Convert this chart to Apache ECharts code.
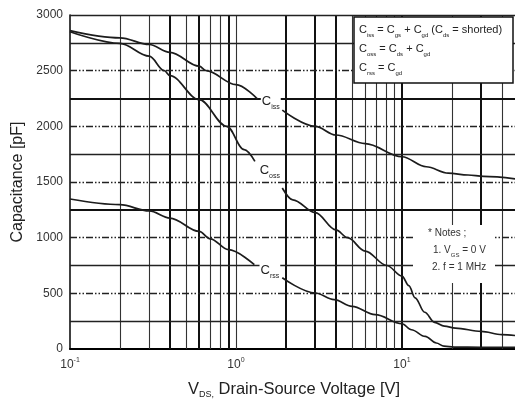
<!DOCTYPE html>
<html>
<head>
<meta charset="utf-8">
<script src="https://cdn.jsdelivr.net/npm/echarts@6/dist/echarts.min.js"></script>
<style>
  html, body { margin: 0; padding: 0; background: #fff; }
  #chart { width: 515px; height: 405px; }
</style>
</head>
<body>
<div id="chart"></div>
<script>
// Capacitance characteristics: V_DS in volts, capacitance in pF.
// A '-' entry leaves a gap in the curve where its name is written.
const cissData = [
  [0.1, 2860], [0.2, 2795], [0.3, 2735], [0.4, 2665], [0.6, 2540], [0.66, 2500],
  [1, 2375], [1.35, 2245], [1.6, '-'],
  [1.9, 2145], [3, 2000], [4, 1922], [6, 1845], [10, 1727], [14, 1637],
  [19, 1580], [25, 1563], [31, 1550], [50, 1525]
];
const cossData = [
  [0.1, 2850], [0.2, 2745], [0.3, 2630], [0.37, 2500], [0.4, 2455], [0.6, 2240],
  [0.88, 2000], [1.12, 1790], [1.3, 1685], [1.6, '-'],
  [1.9, 1446], [2.2, 1340], [3, 1225], [4, 1070], [4.7, 1000], [6, 880],
  [8.1, 750], [10, 655], [11, 570], [12, 460], [13.7, 330], [15.7, 240],
  [18, 205], [21, 188], [30, 158], [40, 130], [50, 118]
];
const crssData = [
  [0.1, 1347], [0.2, 1296], [0.3, 1240], [0.4, 1176], [0.6, 1056], [0.7, 990],
  [0.9, 892], [1.29, 757], [1.6, '-'],
  [1.9, 640], [3, 503], [3.9, 443], [5, 383], [6.9, 308], [10, 227], [11.4, 173],
  [13.8, 113], [16.1, 54], [17.9, 25], [20.6, 17], [30, 15], [50, 15]
];

// Where each curve's name sits: [V, pF]
const curveNames = ['iss', 'oss', 'rss'];
const nameAnchors = [[1.62, 2212], [1.6, 1592], [1.6, 694]];

// Axis ticks
const xTickValues = [0.1, 1, 10];
const xTickExponents = ['-1', '0', '1'];
const yTickStep = 500;

// Chart grid lines
const vLinesHeavy = [0.4, 0.6, 0.9, 2, 3, 4, 10, 30];
const vLinesLight = [0.2, 0.3, 0.5, 0.7, 0.8, 1, 5, 6, 7, 8, 9, 20, 40];
const hLinesSolid = [250, 750, 1750, 2750, 3000];
const hLinesHeavy = [1250, 2250];
const hLinesDashDot = [500, 1000, 1500, 2000, 2500];

// Definition and test-condition lines (rich text)
const definitionLines = [
  '{c|C}{s|iss}{c| = C}{s|gs}{c| + C}{s|gd}{c| (C}{s|ds}{c| = shorted)}',
  '{c|C}{s|oss}{c| = C}{s|ds}{c| + C}{s|gd}',
  '{c|C}{s|rss}{c| = C}{s|gd}'
];
const noteLines = [
  '{c|* Notes ;}',
  '{c|1. V}{s|GS}{c| = 0 V}',
  '{c|2. f = 1 MHz}'
];

const FONT = '"Liberation Sans", Arial, sans-serif';
const INK = '#1c1c1c';

const gridMarks = [];
vLinesHeavy.forEach(v => gridMarks.push({ xAxis: v, lineStyle: { color: '#111', width: 2, type: 'solid' } }));
vLinesLight.forEach(v => gridMarks.push({ xAxis: v, lineStyle: { color: '#333', width: 1.1, type: 'solid' } }));
hLinesSolid.forEach(v => gridMarks.push({ yAxis: v, lineStyle: { color: '#222', width: 1.3, type: 'solid' } }));
hLinesHeavy.forEach(v => gridMarks.push({ yAxis: v, lineStyle: { color: '#111', width: 2, type: 'solid' } }));
hLinesDashDot.forEach(v => gridMarks.push({ yAxis: v, lineStyle: { color: '#222', width: 1.3, type: [7, 2, 1.5, 2, 1.5, 2] } }));

// rich-text styles for a main glyph followed by a small lowered subscript
function subRich(size, subSize, color, lh, drop) {
  return {
    c: { fontFamily: FONT, fontSize: size, color: color, lineHeight: lh, verticalAlign: 'top' },
    s: { fontFamily: FONT, fontSize: subSize, color: color, lineHeight: lh - drop, verticalAlign: 'bottom' }
  };
}

function curveSeries(data, idx) {
  return {
    type: 'line',
    data: data,
    showSymbol: false,
    smooth: 0.35,
    smoothMonotone: 'x',
    connectNulls: false,
    silent: true,
    z: 5,
    lineStyle: { color: INK, width: 1.7 },
    markPoint: {
      z: 6,
      symbol: 'rect',
      symbolSize: 0,
      silent: true,
      label: {
        show: true,
        position: 'inside',
        formatter: '{c|C}{s|' + curveNames[idx] + '}',
        backgroundColor: '#fff',
        padding: [1, 1, 1, 1],
        rich: subRich(13, 7, '#222', 16, 6)
      },
      data: [{ coord: nameAnchors[idx] }]
    }
  };
}

function textMark(x, y, text, rich) {
  return {
    x: x, y: y,
    label: { show: true, position: 'right', distance: 0, formatter: text, rich: rich }
  };
}

const annotationMarks = [];
definitionLines.forEach((t, i) => annotationMarks.push(textMark(359, 31 + i * 19, t, subRich(11, 6, '#222', 14, 5))));
[[428, 235], [433, 252], [432, 269]].forEach((p, i) => annotationMarks.push(textMark(p[0], p[1], noteLines[i], subRich(10, 6, '#333', 13, 5))));

const chart = echarts.init(document.getElementById('chart'), null, { renderer: 'canvas' });

chart.setOption({
  animation: false,
  backgroundColor: '#fff',
  grid: { left: 70, right: -3, top: 15, bottom: 56, containLabel: false, outerBoundsMode: 'none' },
  xAxis: {
    type: 'log',
    logBase: 10,
    min: 0.1,
    max: 50,
    axisLine: { show: true, lineStyle: { color: '#000', width: 2 } },
    axisTick: { show: false },
    splitLine: { show: false },
    axisLabel: {
      margin: 8,
      formatter: function (v) {
        const i = xTickValues.findIndex(t => Math.abs(Math.log10(t) - Math.log10(v)) < 1e-6);
        return i < 0 ? '' : '{b|10}{e|' + xTickExponents[i] + '}';
      },
      rich: {
        b: { fontFamily: FONT, fontSize: 12, color: '#333', lineHeight: 14, verticalAlign: 'bottom' },
        e: { fontFamily: FONT, fontSize: 7, color: '#333', lineHeight: 10, verticalAlign: 'top' }
      }
    },
    name: '{v|V}{s|DS,}{v| Drain-Source Voltage [V]}',
    nameLocation: 'middle',
    nameGap: 32,
    nameTextStyle: {
      rich: {
        v: { fontFamily: FONT, fontSize: 16.5, color: '#222', lineHeight: 18, verticalAlign: 'top' },
        s: { fontFamily: FONT, fontSize: 9, color: '#222', lineHeight: 18, verticalAlign: 'bottom', padding: [8, 0, 0, 0] }
      }
    }
  },
  yAxis: {
    type: 'value',
    min: 0,
    max: 3000,
    interval: yTickStep,
    axisLine: { show: true, lineStyle: { color: '#111', width: 1.6 } },
    axisTick: { show: false },
    splitLine: { show: false },
    axisLabel: { fontFamily: FONT, fontSize: 12, color: '#333', margin: 7, formatter: v => String(v) },
    name: 'Capacitance [pF]',
    nameLocation: 'middle',
    nameGap: 42,
    nameTextStyle: { fontFamily: FONT, fontSize: 16, color: '#222' }
  },
  series: [
    {
      type: 'line',
      data: [],
      silent: true,
      z: 1,
      markLine: {
        z: 1,
        silent: true,
        symbol: ['none', 'none'],
        label: { show: false },
        emphasis: { disabled: true },
        data: gridMarks
      }
    },
    curveSeries(cissData, 0),
    curveSeries(cossData, 1),
    curveSeries(crssData, 2),
    {
      // definitions and test conditions, drawn above their white panels
      type: 'line',
      data: [],
      silent: true,
      z: 8,
      markPoint: {
        z: 8,
        symbol: 'rect',
        symbolSize: 0,
        silent: true,
        data: annotationMarks
      }
    }
  ],
  graphic: [
    {
      type: 'rect', z: 3,
      shape: { x: 354, y: 17, width: 159, height: 66 },
      style: { fill: '#fff', stroke: '#111', lineWidth: 1.5 }
    },
    {
      type: 'rect', z: 3,
      shape: { x: 413, y: 225, width: 82, height: 58 },
      style: { fill: '#fff', stroke: null }
    }
  ]
});
</script>
</body>
</html>
